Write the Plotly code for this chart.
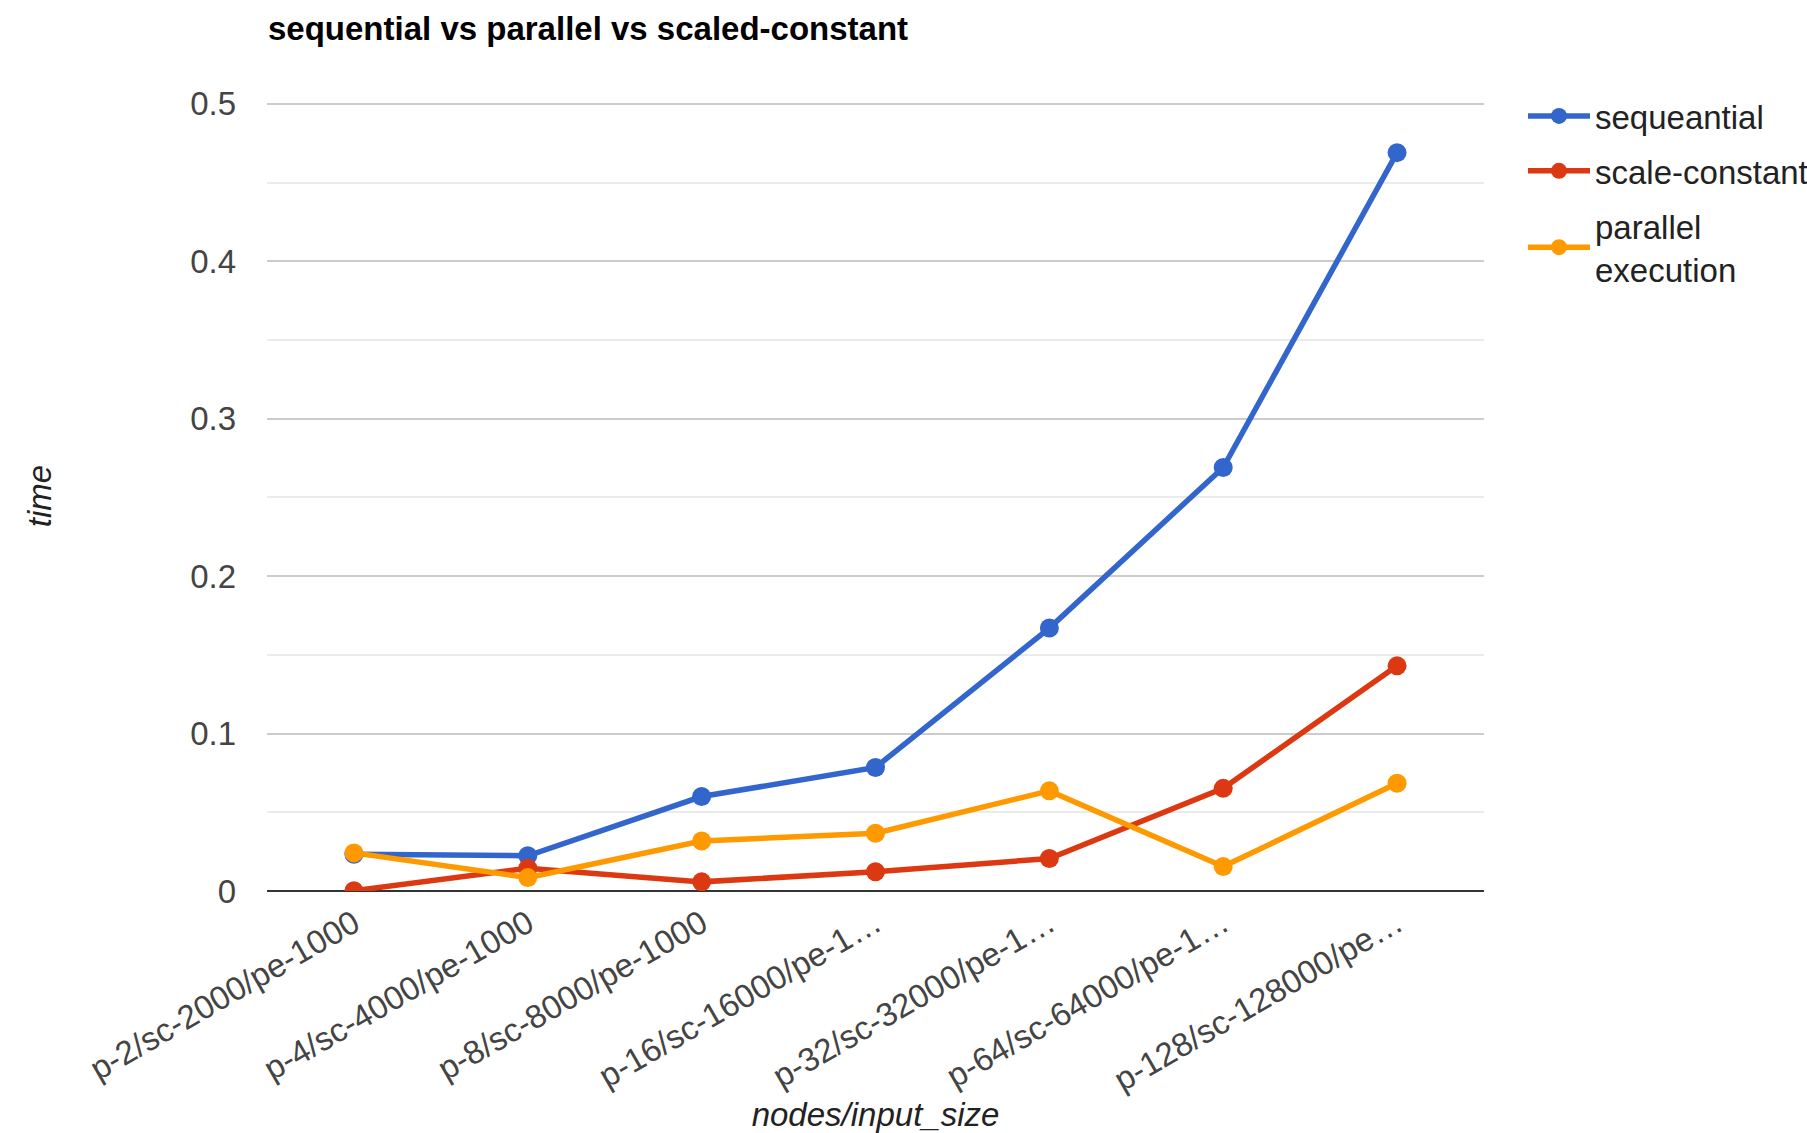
import plotly.graph_objects as go

categories = [
    "p-2/sc-2000/pe-1000",
    "p-4/sc-4000/pe-1000",
    "p-8/sc-8000/pe-1000",
    "p-16/sc-16000/pe-1…",
    "p-32/sc-32000/pe-1…",
    "p-64/sc-64000/pe-1…",
    "p-128/sc-128000/pe…",
]
sequential = [0.0234, 0.0224, 0.0600, 0.0785, 0.1670, 0.2690, 0.4690]
scale_constant = [0.0002, 0.0145, 0.0058, 0.0122, 0.0206, 0.0652, 0.1430]
parallel = [0.0242, 0.0085, 0.0318, 0.0367, 0.0636, 0.0155, 0.0685]

series_names = ["sequeantial", "scale-constant", "parallel<br>execution"]
colors = ["#3366cc", "#dc3912", "#ff9900"]

FONT = "Liberation Sans, Arial, sans-serif"
FS = 33
W, H = 1807, 1133
L, R, T, B = 267, 1807 - 1484, 101, 1133 - 891

fig = go.Figure()
for i, (name, vals, col) in enumerate(zip(series_names, [sequential, scale_constant, parallel], colors)):
    fig.add_trace(go.Scatter(
        x=categories, y=vals, name=name, mode="lines+markers",
        legendgroup=f"g{i}",
        line=dict(color=col, width=5.5),
        marker=dict(color=col, size=19),
    ))

fig.update_layout(
    width=W, height=H,
    margin=dict(l=L, r=R, t=T, b=B, autoexpand=False),
    paper_bgcolor="white", plot_bgcolor="white",
    font=dict(family=FONT, size=FS, color="#444"),
    title=dict(
        text="<b>sequential vs parallel vs scaled-constant</b>",
        xref="container", yref="container",
        x=268 / W, xanchor="left", y=1 - 28 / H, yanchor="middle",
        font=dict(family=FONT, size=FS, color="#000"),
    ),
    legend=dict(
        x=(1597 - 80 + 6) / W, xref="container", xanchor="left",
        y=1 - 88 / H, yref="container", yanchor="top",
        font=dict(family=FONT, size=FS, color="#222"),
        itemwidth=62, traceorder="grouped", tracegroupgap=9,
        bgcolor="rgba(0,0,0,0)",
    ),
    showlegend=True,
)

fig.update_xaxes(
    type="category", range=[-0.5, 6.5],
    showgrid=False, showline=False, zeroline=False,
    tickangle=-30, ticks="", ticklabelstandoff=6,
    tickfont=dict(family=FONT, size=FS, color="#444"),
    title=dict(text="<i>nodes/input_size</i>", standoff=16,
               font=dict(family=FONT, size=FS, color="#222")),
)
fig.update_yaxes(
    range=[0, 0.5018], dtick=0.1, tick0=0,
    showgrid=True, gridcolor="#cccccc", gridwidth=1.5,
    minor=dict(dtick=0.05, showgrid=True, gridcolor="#ebebeb", gridwidth=1.5),
    zeroline=True, zerolinecolor="#333333", zerolinewidth=2,
    showline=False, ticks="", ticklabelstandoff=30,
    tickformat="~g",
    tickfont=dict(family=FONT, size=FS, color="#444"),
    title=dict(text="<i>time</i>", standoff=128,
               font=dict(family=FONT, size=FS, color="#222")),
)

fig.write_html("out.html")
